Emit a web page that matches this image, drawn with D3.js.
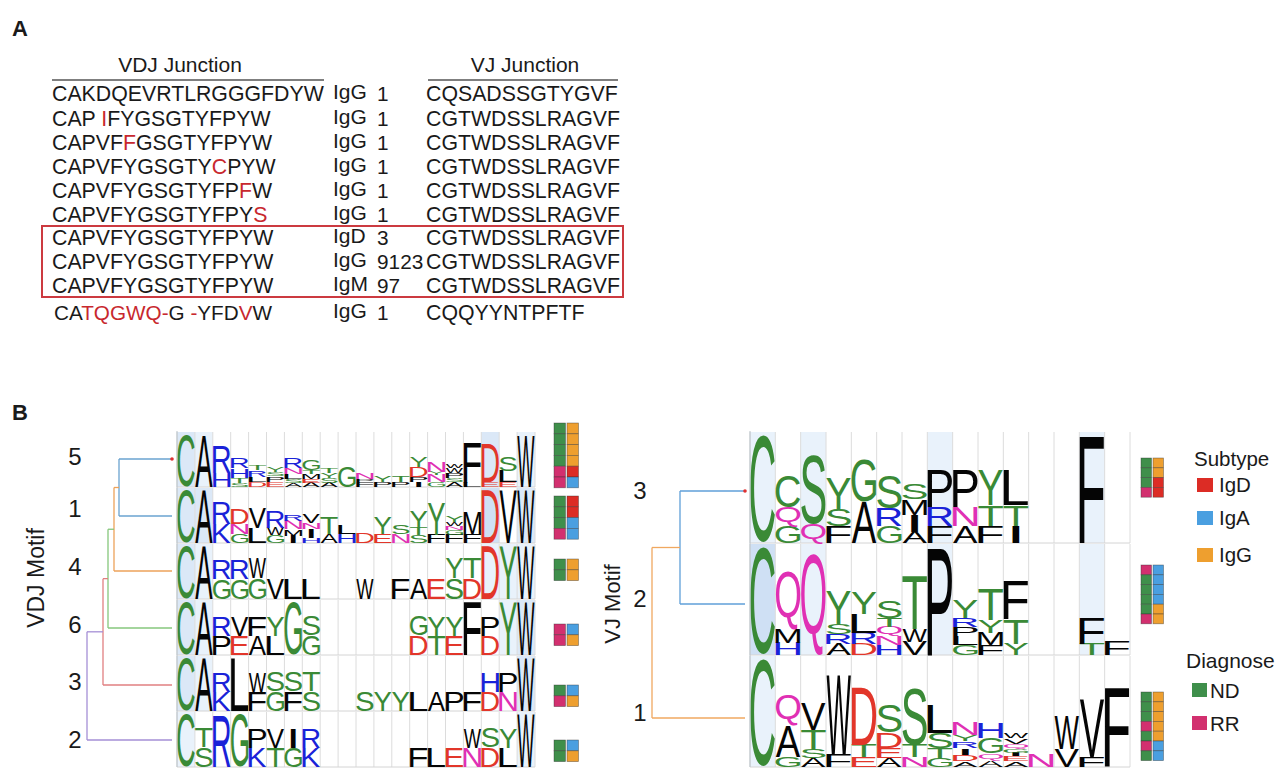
<!DOCTYPE html>
<html><head><meta charset="utf-8">
<script src="https://cdn.jsdelivr.net/npm/d3@7"></script>
<style>html,body{margin:0;padding:0;background:#fff}svg{display:block}text{font-family:"Liberation Sans",Arial,sans-serif;fill:#1a1a1a}</style>
</head><body><svg id="c" width="1286" height="784"></svg>
<script>
// Panel A
const vdjJunctions=["CAKDQEVRTLRGGGFDYW","CAP |I|FYGSGTYFPYW","CAPVF|F|GSGTYFPYW","CAPVFYGSGTY|C|PYW","CAPVFYGSGTYFP|F|W","CAPVFYGSGTYFPY|S","CAPVFYGSGTYFPYW","CAPVFYGSGTYFPYW","CAPVFYGSGTYFPYW","CA|TQGWQ-|G |-|YFD|V|W"];
const isotypes=["IgG","IgG","IgG","IgG","IgG","IgG","IgD","IgG","IgM","IgG"];
const counts=["1","1","1","1","1","1","3","9123","97","1"];
const vjJunctions=["CQSADSSGTYGVF","CGTWDSSLRAGVF","CGTWDSSLRAGVF","CGTWDSSLRAGVF","CGTWDSSLRAGVF","CGTWDSSLRAGVF","CGTWDSSLRAGVF","CGTWDSSLRAGVF","CGTWDSSLRAGVF","CQQYYNTPFTF"];
// Panel B: motif ids in display order
const vdjMotifs=["5","1","4","6","3","2"];
const vjMotifs=["3","2","1"];
// logo columns: letter + height (% of row), bottom to top
const vdj5=["C94","A92","H26,R50","S8,T9,H17,R18","D9,L10,R12,T9","E9,P10,S8,Y10","A7,S8,L8,N11,R18","A8,E7,M9,T7,G18","A8,S9,Y8,T10","G38","F9,P5,N12","P9,Y12","P9,T12","I9,P9,D18,Y18","G9,N13,Y6,N18","A9,S8,P8,W10,W6","L8,F73","E10,D70","E9,L20,S27","W92"];
const vdj1=["C95","A95","K35,R40","G16,N18,D28","L28,V38","G14,W14,R30","I13,M12,N15,R12","H10,I15,N12,V15","A16,T30","H16,L15","D18","E17,Y30","N17,S17","S15,T13,Y30","F15,Y58","F15,G9,N7,W7,Y11","F15,M42","D95","V95","W95"];
const vdj4=["C95","A95","G36,R36","G36,R36","G38,W36","V38","L38","L38","","","W38","","F38","A38","E38","S38,Y38","D38,T38","D95","Y95","W95"];
const vdj6=["C95","A95","P35,R35","E35,V35","A35,F35","L35,Y35","G95","G35,S35","","","","","","D35,G35","T35,Y35","E35,Y35","F95","D35,P35","Y95","W95"];
const vdj3=["C95","A95","K35,R35","L95","F35,W35","G35,S35","F35,S35","S35,T35","","","S35","Y35","Y35","L35","A35","P35","F35","D35,H35","N35,P35","W95"];
const vdj2=["C95","S35,T35","R95","G95","K35,P35","T35,V35","G35,I35","K35,R35","","","","","","F35","L35","E35","N35,W35","D35,S35","L35,Y35","W95"];
const vj3=["C96","G15,Q17,C28","Q17,S62","F15,S16,Y28","A37,G38","G15,R16,S30","A10,I15,M14,S14","F15,R17,P33","A15,N17,P33","F15,T19,Y31","I15,T19,L31","","","F96",""];
const vj2=["C96","H11,M12,Q52","Q90","A10,R9,S9,Y30","D10,R10,L17,Y19","H9,N8,Q8,T8,S16","V12,W11,T48","P96","G9,L8,P8,R8,Y16","F9,M11,Y11,T28","Y10,T22,F34","","","T10,F23","F13"];
const vj1=["C96","G9,A28,Q28","A8,S8,T17,V24","F11,W72","E9,T11,D52","A8,E9,D14,S25","N9,T11,S52","G8,T9,S14,L25","A5,D6,I6,R6,Y6,N11","A6,Q6,G14,H14","A5,E5,I3,G3,Q5,V5,W5","N11","V16,W30","F9,V52","F70"];
// shading strength per highlighted column
const vdjShade=[{0:2,1:1,17:2,19:1},{0:2,1:2,17:3,19:2},{0:2,1:1,17:1,18:1,19:1},{0:2,1:1,18:1,19:2},{0:2,1:1,19:2},{0:1,19:1}];
const vjShade=[{0:1,2:1,7:1,13:1},{0:3,2:1,7:1,13:1},{0:1}];
// sample annotation: left diagnose, right subtype
const vdjDiag=["NNNNRR","NNNR","NN","RR","NR","NN"];
const vdjSub=["GGGGDA","DDAA","GG","AG","AG","AG"];
const vjDiag=["NNNR","RNNNNR","NNNRNRN"];
const vjSub=["GGDD","AAAAGG","GGGGGAA"];
// dendrogram merge heights (distance), children are row indices or sub-merges
const vdjTree={h:32,c:"#a58fd6",k:[{h:16,c:"#e07f80",k:[{h:11,c:"#86c77c",k:[{h:5,c:"#eda25a",k:[{h:0,c:"#6aa3d0",k:[0,1]},2]},3]},4]},5]};
const vjTree={h:93,c:"#f0a860",k:[{h:65,c:"#5f9fd8",k:[0,1]},2]};
const subtypeLegend=[["IgD","D"],["IgA","A"],["IgG","G"]];
const diagLegend=[["ND","N"],["RR","R"]];

const fill={N:"#3f8f4b",R:"#d2306f",D:"#dc2c25",A:"#4a9fe0",G:"#ee9f2f"};
const letterColor=l=>"GSTYC".includes(l)?"#3a8a36":"RKH".includes(l)?"#1a22d8":"DE".includes(l)?"#e2362a":"NQ".includes(l)?"#e030b4":"#050505";
const shadeColor=[null,"#e9f2fb","#dbe8f7","#cfe0f4"];
const svg=d3.select("#c");
const ctx=document.createElement("canvas").getContext("2d");
const FONT='100px "Liberation Sans"';
function glyph(l){ctx.font=FONT;const m=ctx.measureText(l);return {l:-m.actualBoundingBoxLeft,w:m.actualBoundingBoxLeft+m.actualBoundingBoxRight,a:m.actualBoundingBoxAscent,d:m.actualBoundingBoxDescent};}

// Panel labels
svg.append("text").attr("x",12).attr("y",36).attr("font-size",22).attr("font-weight",700).text("A");
svg.append("text").attr("x",12).attr("y",420).attr("font-size",22).attr("font-weight",700).text("B");

// Panel A table
const rowY=[100.5,125.5,149.5,173.5,197.5,221.5,244.5,268.5,292.5,319.5];
const tableFont=21.3;
const a=svg.append("g");
a.append("text").attr("x",180).attr("y",72).attr("text-anchor","middle").attr("font-size",21).text("VDJ Junction");
a.append("text").attr("x",525).attr("y",72).attr("text-anchor","middle").attr("font-size",21).text("VJ Junction");
a.append("line").attr("x1",52).attr("x2",324).attr("y1",80).attr("y2",80).attr("stroke","#555").attr("stroke-width",1.3);
a.append("line").attr("x1",428).attr("x2",618).attr("y1",80).attr("y2",80).attr("stroke","#555").attr("stroke-width",1.3);
vdjJunctions.forEach((s,i)=>{
  const t=a.append("text").attr("x",i==9?54:52).attr("y",rowY[i]).attr("font-size",i==9?20.7:tableFont).attr("xml:space","preserve").style("white-space","pre");
  s.split("|").forEach((p,j)=>t.append("tspan").style("fill",j%2?"#c8282e":"#1a1a1a").text(p));
  a.append("text").attr("x",333).attr("y",rowY[i]-2).attr("font-size",21).text(isotypes[i]);
  a.append("text").attr("x",377).attr("y",rowY[i]).attr("font-size",20.8).text(counts[i]);
  a.append("text").attr("x",426).attr("y",rowY[i]).attr("font-size",tableFont).text(vjJunctions[i]);
});
a.append("rect").attr("x",42).attr("y",226).attr("width",581).attr("height",71).attr("fill","none").attr("stroke","#cc3a40").attr("stroke-width",2);

// Logos
function logo(cols,x,y,shadeMap){
  const g=svg.append("g");
  g.selectAll("rect").data(Object.entries(shadeMap)).join("rect")
    .attr("x",d=>x(+d[0])).attr("width",x.bandwidth()).attr("y",y.range()[1]).attr("height",y.range()[0]-y.range()[1]).attr("fill",d=>shadeColor[d[1]]);
  g.selectAll("line").data(d3.range(cols.length+1)).join("line")
    .attr("x1",i=>x.range()[0]+i*x.step()).attr("x2",i=>x.range()[0]+i*x.step())
    .attr("y1",y.range()[1]).attr("y2",y.range()[0]).attr("stroke","#dcdcdc").attr("stroke-width",1);
  g.append("line").attr("x1",x.range()[0]).attr("x2",x.range()[1]).attr("y1",y.range()[0]).attr("y2",y.range()[0]).attr("stroke","#d4d4d4");
  cols.forEach((col,i)=>{
    let base=0;
    if(!col)return;
    col.split(",").forEach(e=>{
      const l=e[0],h=+e.slice(1),m=glyph(l);
      const y0=y(base),y1=y(base+h);base+=h;
      const w=x.bandwidth()*(l==="I"?0.28:0.97),sx=w/m.w,sy=(y0-y1)/(m.a+m.d);
      g.append("text").attr("transform",`translate(${x(i)+(x.bandwidth()-w)/2-m.l*sx},${y0-m.d*sy}) scale(${sx},${sy})`)
        .attr("font-size",100).style("fill",letterColor(l)).text(l);
    });
  });
}
const vdjRows=d3.scaleBand().domain(d3.range(6)).range([431,767]);
const vdjX=d3.scaleBand().domain(d3.range(20)).range([177,535]);
[vdj5,vdj1,vdj4,vdj6,vdj3,vdj2].forEach((c,i)=>{
  const t=vdjRows(i),b=t+vdjRows.bandwidth();
  logo(c,vdjX,d3.scaleLinear().domain([0,100]).range([b,t+1]),vdjShade[i]);
});
const vjRows=d3.scaleBand().domain(d3.range(3)).range([431,767]);
const vjX=d3.scaleBand().domain(d3.range(15)).range([750,1130]);
[vj3,vj2,vj1].forEach((c,i)=>{
  const t=vjRows(i),b=t+vjRows.bandwidth();
  logo(c,vjX,d3.scaleLinear().domain([0,100]).range([b,t+1]),vjShade[i]);
});
svg.append("line").attr("x1",750).attr("x2",750).attr("y1",431).attr("y2",767).attr("stroke","#b9c2c9");
svg.append("line").attr("x1",177).attr("x2",177).attr("y1",431).attr("y2",767).attr("stroke","#b9c2c9");

// Dendrograms
function tree(node,xs,ys,right){
  const g=svg.append("g").attr("fill","none").attr("stroke-width",1.3);
  function rec(n){
    if(typeof n==="number")return {y:ys[n],x:right};
    const k=n.k.map(rec),px=xs(n.h);
    const yy=k.map(d=>d.y);
    g.append("line").attr("x1",px).attr("x2",px).attr("y1",yy[0]).attr("y2",yy[1]).attr("stroke",n.c);
    k.forEach(d=>g.append("line").attr("x1",px).attr("x2",d.x).attr("y1",d.y).attr("y2",d.y).attr("stroke",n.c));
    return {y:d3.mean(yy),x:px};
  }
  rec(node);
  g.append("circle").attr("cx",right).attr("cy",ys[0]).attr("r",1.8).attr("fill","#e03030").attr("stroke","none");
}
tree(vdjTree,d3.scaleLinear().domain([32,0]).range([87,119]),[459,516,571,628,685,740],172);
tree(vjTree,d3.scaleLinear().domain([93,65]).range([652,680]),[491,604,718],745);

// Axis titles + motif ids
svg.append("text").attr("transform","translate(44,578) rotate(-90)").attr("text-anchor","middle").attr("font-size",23).text("VDJ Motif");
svg.append("text").attr("transform","translate(620,604) rotate(-90)").attr("text-anchor","middle").attr("font-size",22).text("VJ Motif");
[465,517,575,633,690,748].forEach((y,i)=>svg.append("text").attr("x",75).attr("y",y).attr("text-anchor","middle").attr("font-size",24).text(vdjMotifs[i]));
[499,607,721].forEach((y,i)=>svg.append("text").attr("x",640).attr("y",y).attr("text-anchor","middle").attr("font-size",24).text(vjMotifs[i]));

// Annotation blocks
function blocks(diag,sub,x0,tops,cell){
  const colW=cell.w;
  diag.forEach((d,i)=>{
    const y=d3.scaleBand().domain(d3.range(d.length)).range([tops[i],tops[i]+d.length*cell.h]);
    [[d,x0],[sub[i],x0+colW+cell.gap]].forEach(([s,x])=>{
      svg.append("g").selectAll("rect").data(s.split("")).join("rect")
        .attr("x",x).attr("y",(_,j)=>y(j)).attr("width",colW).attr("height",y.bandwidth())
        .attr("fill",k=>fill[k]).attr("stroke","#333").attr("stroke-opacity",.55).attr("stroke-width",.7);
    });
  });
}
blocks(vdjDiag,vdjSub,554,[423,496,559,624,685,740],{w:11.5,h:10.8,gap:1.5});
blocks(vjDiag,vjSub,1141,[458,565,692],{w:10.5,h:9.8,gap:1.5});

// Legends
const lg=svg.append("g");
lg.append("text").attr("x",1194).attr("y",466).attr("font-size",20.5).text("Subtype");
[478,511,548].forEach((y,i)=>{
  lg.append("rect").attr("x",1197).attr("y",y).attr("width",16).attr("height",14).attr("fill",fill[subtypeLegend[i][1]]);
  lg.append("text").attr("x",1219).attr("y",y+14).attr("font-size",20.5).text(subtypeLegend[i][0]);
});
lg.append("text").attr("x",1186).attr("y",668).attr("font-size",21).text("Diagnose");
[683,716].forEach((y,i)=>{
  lg.append("rect").attr("x",1192).attr("y",y).attr("width",15).attr("height",14).attr("fill",fill[diagLegend[i][1]]);
  lg.append("text").attr("x",1210).attr("y",y+15).attr("font-size",20.5).text(diagLegend[i][0]);
});
</script></body></html>
